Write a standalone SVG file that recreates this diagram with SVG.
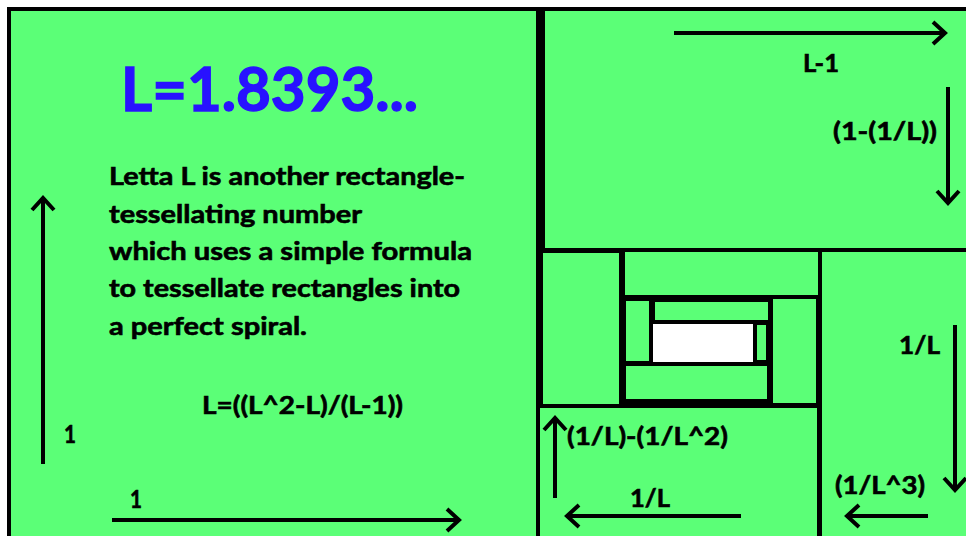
<svg xmlns="http://www.w3.org/2000/svg" width="966" height="536" viewBox="0 0 966 536">
<defs>
<style>
.g{fill:#5BFF77}
.w{fill:#FFFFFF}
.t{font-family:Lato,"Liberation Sans",Arial,sans-serif;font-weight:bold;font-size:24px;fill:#000;stroke:#000;stroke-width:0.6px}
.title{font-family:Lato,"Liberation Sans",Arial,sans-serif;font-weight:bold;font-size:62px;fill:#2812FF;stroke:#2812FF;stroke-width:1.4px}
.a{stroke:#000;stroke-width:4;fill:none;marker-end:url(#arr)}
</style>
<marker id="arr" markerUnits="userSpaceOnUse" viewBox="-15 -14 18 28" refX="0" refY="0" markerWidth="18" markerHeight="28" orient="auto" overflow="visible">
<path d="M-12,-11 L0,0 L-12,11" stroke="#000" stroke-width="4" fill="none" stroke-linecap="butt" stroke-linejoin="miter"/>
</marker>
</defs>
<rect x="0" y="0" width="966" height="536" fill="#FFFFFF"/>
<rect x="7" y="7" width="959" height="529" fill="#000"/>
<g id="left-square">
<rect class="g" x="11" y="11" width="525" height="525"/>
<text class="title" x="121" y="111" textLength="297" lengthAdjust="spacingAndGlyphs">L=1.8393...</text>
<text class="t" x="109" y="185" textLength="356" lengthAdjust="spacingAndGlyphs">Letta L is another rectangle-</text>
<text class="t" x="109" y="223" textLength="253" lengthAdjust="spacingAndGlyphs">tessellating number</text>
<text class="t" x="109" y="260" textLength="363" lengthAdjust="spacingAndGlyphs">which uses a simple formula</text>
<text class="t" x="109" y="297" textLength="351" lengthAdjust="spacingAndGlyphs">to tessellate rectangles into</text>
<text class="t" x="109" y="335" textLength="198" lengthAdjust="spacingAndGlyphs">a perfect spiral.</text>
<text class="t" x="202" y="414" textLength="201" lengthAdjust="spacingAndGlyphs">L=((L^2-L)/(L-1))</text>
</g>
<g id="top-right">
<rect class="g" x="545" y="11" width="421" height="237"/>
</g>
<g id="left-tall">
<rect class="g" x="543" y="253" width="76" height="151"/>
</g>
<g id="top-middle">
<rect class="g" x="625" y="252" width="193" height="43"/>
</g>
<g id="right-tall">
<rect class="g" x="822" y="252" width="144" height="284"/>
</g>
<g id="bottom-wide">
<rect class="g" x="540" y="408" width="277" height="128"/>
</g>
<g id="inner-right">
<rect class="g" x="773" y="299" width="43" height="104"/>
</g>
<g id="inner-bottom">
<rect class="g" x="626" y="366" width="141" height="33"/>
</g>
<g id="inner-left">
<rect class="g" x="626" y="301" width="23" height="60"/>
</g>
<g id="inner-top">
<rect class="g" x="655" y="302" width="113" height="18"/>
</g>
<g id="inner-small">
<rect class="g" x="757" y="325" width="9" height="35"/>
</g>
<g id="center">
<rect class="w" x="653" y="324" width="100" height="38"/>
</g>
<g id="connectors">
<line class="a" x1="43" y1="464" x2="43" y2="198"/>
<line class="a" x1="112" y1="520" x2="459" y2="520"/>
<line class="a" x1="674" y1="33" x2="945" y2="33"/>
<line class="a" x1="948" y1="87" x2="948" y2="203"/>
<line class="a" x1="955" y1="325" x2="955" y2="490"/>
<line class="a" x1="928" y1="516" x2="847" y2="516"/>
<line class="a" x1="555" y1="498" x2="555" y2="418"/>
<line class="a" x1="741" y1="516" x2="567" y2="516"/>
</g>
<g id="labels">
<text class="t" x="64" y="443" textLength="12" lengthAdjust="spacingAndGlyphs">1</text>
<text class="t" x="130" y="508" textLength="12" lengthAdjust="spacingAndGlyphs">1</text>
<text class="t" x="803" y="72" textLength="36" lengthAdjust="spacingAndGlyphs">L-1</text>
<text class="t" x="833" y="140" textLength="104" lengthAdjust="spacingAndGlyphs">(1-(1/L))</text>
<text class="t" x="899" y="354" textLength="41" lengthAdjust="spacingAndGlyphs">1/L</text>
<text class="t" x="835" y="494" textLength="90" lengthAdjust="spacingAndGlyphs">(1/L^3)</text>
<text class="t" x="567" y="445" textLength="161" lengthAdjust="spacingAndGlyphs">(1/L)-(1/L^2)</text>
<text class="t" x="630" y="507" textLength="40" lengthAdjust="spacingAndGlyphs">1/L</text>
</g>
</svg>
